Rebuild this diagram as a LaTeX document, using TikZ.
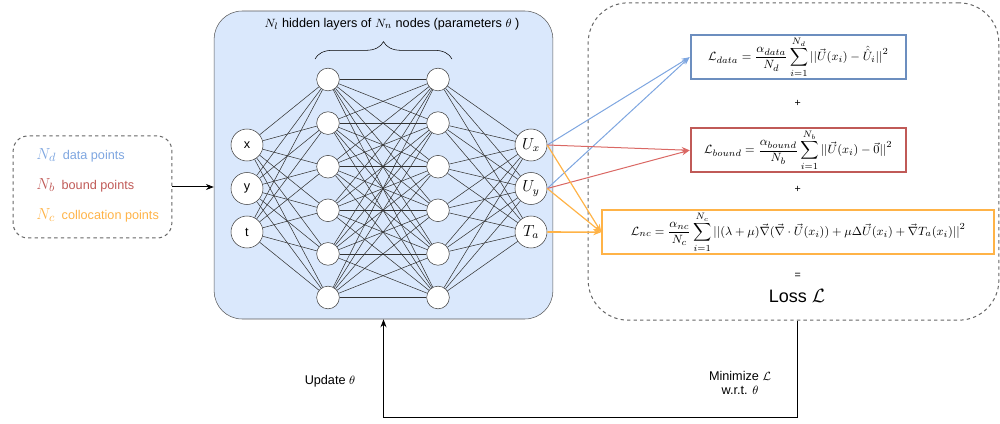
\documentclass[tikz,border=0pt]{standalone}
\usepackage{amsmath}
\usepackage{amssymb}
\usepackage[no-math]{fontspec}
\setmainfont{Liberation Sans}
\usetikzlibrary{arrows.meta}
\usetikzlibrary{decorations.pathreplacing}
\usetikzlibrary{positioning}

\definecolor{netfill}{HTML}{DAE8FC}
\definecolor{netline}{HTML}{5A5A5A}
\definecolor{datablue}{HTML}{7EA6E0}
\definecolor{databox}{HTML}{6C8EBF}
\definecolor{boundred}{HTML}{DA6864}
\definecolor{boundbox}{HTML}{C05A57}
\definecolor{ncorange}{HTML}{FFB347}

\newcommand{\bigsym}[1]{{\fontsize{12.5}{13}\selectfont$#1$}}

\begin{document}
\fontsize{9.5}{11}\selectfont
\begin{tikzpicture}[x=0.75pt,y=-0.75pt,>={Stealth[length=6pt,width=4.5pt]},
		neuron/.style={draw=black!75,fill=white,circle,inner sep=0pt,minimum size=17pt},
		io/.style={neuron,minimum size=24pt},
		weight/.style={black!80,line width=0.4pt},
		dashbox/.style={draw=black!60,line width=0.75pt,dash pattern=on 2.5pt off 2.4pt,inner sep=0pt},
		lossbox/.style={draw=#1,line width=1.5pt,minimum height=33pt,inner sep=0pt}]
	\useasboundingbox (0,0) rectangle (1000,424);

		\node [dashbox,rounded corners=11pt,minimum width=119pt,minimum height=76.5pt] (points) at (92.5,187) {};
		\node [anchor=west,text=datablue] at (32,155) {\bigsym{N_d}\hspace{5pt}data points};
		\node [anchor=west,text=boundbox] at (32,185) {\bigsym{N_b}\hspace{5pt}bound points};
		\node [anchor=west,text=ncorange] at (32,215) {\bigsym{N_c}\hspace{5pt}collocation points};

		\node [draw=netline,fill=netfill,rounded corners=21pt,minimum width=254pt,minimum height=231pt] (net) at (383.5,165) {};
		\node at (392,24) {$N_l$ hidden layers of $N_n$ nodes (parameters $\theta$ )};
		\draw [y=0.75pt,decorate,decoration={brace,amplitude=13pt}] (315,-59) -- (452,-59);

		\node [io] (x) at (247,145) {x};
		\node [io] (y) at (247,188.5) {y};
		\node [io] (t) at (247,232) {t};
		\foreach \i in {1,...,6} {
			\node [neuron] (a\i) at (328,{79.5+43.6*(\i-1)}) {};
			\node [neuron] (b\i) at (438,{79.5+43.6*(\i-1)}) {};
		}
		\node [io,font=\fontsize{12}{13}\selectfont] (ux) at (531,145) {$U_x$};
		\node [io,font=\fontsize{12}{13}\selectfont] (uy) at (531,188.5) {$U_y$};
		\node [io,font=\fontsize{12}{13}\selectfont] (ta) at (531,232) {$T_a$};

		\foreach \i in {1,...,6} {
			\foreach \j in {x,y,t}
				\draw [weight] (\j) -- (a\i);
			\foreach \k in {1,...,6}
				\draw [weight] (a\i) -- (b\k);
			\foreach \j in {ux,uy,ta}
				\draw [weight] (b\i) -- (\j);
		}

		\draw [->,line width=0.75pt] (points.east) -- (points.east -| net.west);

		\node [dashbox,rounded corners=30pt,minimum width=308pt,minimum height=238pt] (losses) at (793.5,161.5) {};
		\node [lossbox=databox,minimum width=161.5pt] (data) at (798.3,57.2)
			{$\mathcal{L}_{data}=\dfrac{\alpha_{data}}{N_d}\displaystyle\sum_{i=1}^{N_d}||\vec{U}(x_i)-\hat{\hat{U}}_i||^2$};
		\node (plus1) at (797.7,103.3) {\footnotesize +};
		\node [lossbox=boundbox,minimum width=161.5pt] (bound) at (798.3,150.3)
			{$\mathcal{L}_{bound}=\dfrac{\alpha_{bound}}{N_b}\displaystyle\sum_{i=1}^{N_b}||\vec{U}(x_i)-\vec{0}||^2$};
		\node (plus2) at (797.7,189) {\footnotesize +};
		\node [lossbox=ncorange,minimum width=294pt] (nc) at (798.3,232.2)
			{$\mathcal{L}_{nc}=\dfrac{\alpha_{nc}}{N_c}\displaystyle\sum_{i=1}^{N_c}||(\lambda+\mu)\vec{\nabla}(\vec{\nabla}\cdot\vec{U}(x_i))+\mu\Delta\vec{U}(x_i)+\vec{\nabla}T_a(x_i)||^2$};
		\node (eq) at (797.7,275.7) {\footnotesize =};
		\node [font=\fontsize{13.5}{15}\selectfont] (loss) at (797,296) {Loss $\mathcal{L}$};

		\draw [->,datablue,line width=0.75pt] (ux.east) -- (data.west);
		\draw [->,datablue,line width=0.75pt] (uy.east) -- (data.west);
		\draw [->,boundred,line width=0.75pt] (ux.east) -- (bound.west);
		\draw [->,boundred,line width=0.75pt] (uy.east) -- (bound.west);
		\draw [->,ncorange,line width=0.9pt] (ux.east) -- (nc.west);
		\draw [->,ncorange,line width=0.9pt] (uy.east) -- (nc.west);
		\draw [->,ncorange,line width=1.2pt] (ta.east) -- (nc.west);

		\coordinate (back) at (383.5,417);
		\draw [->,line width=0.75pt] (losses.south -| loss) |- (back) -- (net.south);
		\node (update) at (330,381) {Update $\theta$};
		\node [align=center] (minimize) at (740,383) {Minimize $\mathcal{L}$\\w.r.t. $\theta$};
	\end{tikzpicture}
\end{document}
